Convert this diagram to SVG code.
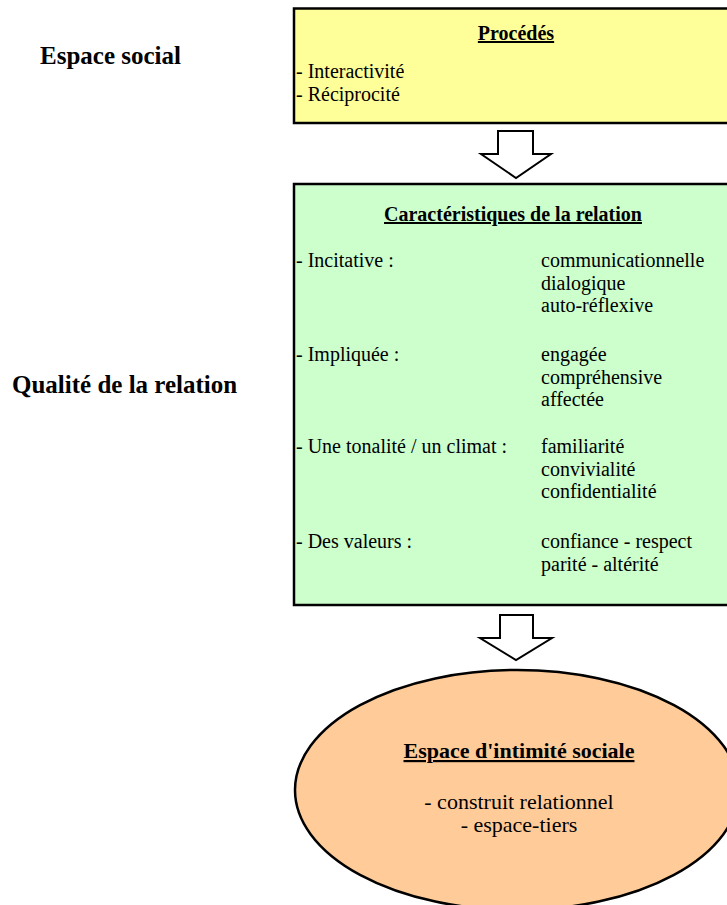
<svg xmlns="http://www.w3.org/2000/svg" width="727" height="905" viewBox="0 0 727 905">
<style>
text{font-family:"Liberation Serif","Times New Roman",serif;fill:#000}
.b{font-weight:bold}
.u{text-decoration:underline}
.t20{font-size:20px}
.t22{font-size:22px}
.t25{font-size:25px}
.c{text-anchor:middle}
.box{stroke:#000;stroke-width:2.5}
.arr{fill:#fff;stroke:#000;stroke-width:2;stroke-linejoin:miter}
</style>
<rect width="727" height="905" fill="#fff"/>
<g id="label-espace-social"><text class="b t25" x="40" y="64">Espace social</text></g>
<g id="label-qualite"><text class="b t25" x="12" y="393">Qualité de la relation</text></g>
<g id="node-procedes">
<rect class="box" x="294" y="8.5" width="460" height="114.5" fill="#FFFF99"/>
<text class="b u t20 c" x="516" y="40">Procédés</text>
<text class="t20" x="296" y="78">- Interactivité</text>
<text class="t20" x="296" y="101">- Réciprocité</text>
</g>
<g id="node-caracteristiques">
<rect class="box" x="294" y="184" width="460" height="421" fill="#CCFFCC"/>
<text class="b u t20 c" x="513" y="221">Caractéristiques de la relation</text>
<text class="t20" x="296" y="267">- Incitative :</text>
<text class="t20" x="541" y="267">communicationnelle</text>
<text class="t20" x="541" y="290">dialogique</text>
<text class="t20" x="541" y="312">auto-réflexive</text>
<text class="t20" x="296" y="361">- Impliquée :</text>
<text class="t20" x="541" y="361">engagée</text>
<text class="t20" x="541" y="384">compréhensive</text>
<text class="t20" x="541" y="406">affectée</text>
<text class="t20" x="296" y="453">- Une tonalité / un climat :</text>
<text class="t20" x="541" y="453">familiarité</text>
<text class="t20" x="541" y="476">convivialité</text>
<text class="t20" x="541" y="498">confidentialité</text>
<text class="t20" x="296" y="548">- Des valeurs :</text>
<text class="t20" x="541" y="548">confiance - respect</text>
<text class="t20" x="541" y="571">parité - altérité</text>
</g>
<g id="node-espace-intimite">
<ellipse cx="517" cy="790" rx="222" ry="120" fill="#FFCC99" stroke="#000" stroke-width="2.5"/>
<text class="b u t22 c" x="519" y="758">Espace d'intimité sociale</text>
<text class="t22 c" x="519" y="809">- construit relationnel</text>
<text class="t22 c" x="519" y="832">- espace-tiers</text>
</g>
<g id="connectors">
<path class="arr" d="M498,131 H533 V154 H551 L516,178 L481,154 H498 Z"/>
<path class="arr" d="M500,615 H533 V638 H552 L516,660 L480,638 H500 Z"/>
</g>
</svg>
